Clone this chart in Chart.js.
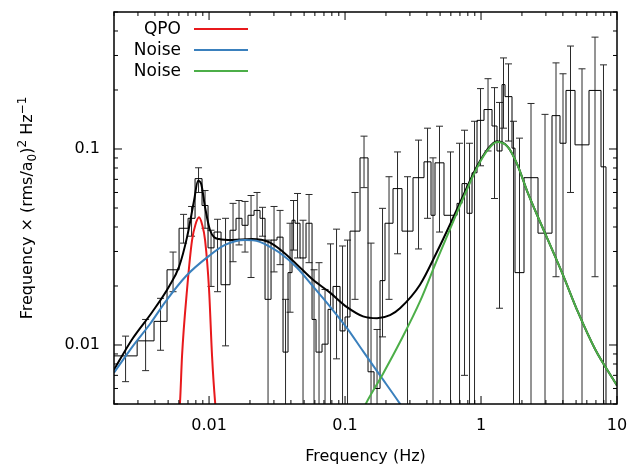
<!DOCTYPE html>
<html>
<head>
<meta charset="utf-8">
<script src="https://cdn.jsdelivr.net/npm/chart.js@4.4.1/dist/chart.umd.min.js"></script>
<style>
  html, body { margin: 0; padding: 0; background: #fff; }
  #wrap { width: 642px; height: 466px; }
</style>
</head>
<body>
<div id="wrap"><canvas id="psdChart" width="642" height="466"></canvas></div>
<script>
// power spectrum bins (Hz edges) and nu*P values
const binEdges = [0.0020, 0.00296, 0.00394, 0.00491, 0.00602, 0.00701, 0.00789, 0.00888, 0.00983, 0.01088,
    0.01225, 0.01427, 0.01579, 0.01748, 0.01935, 0.02142, 0.02371, 0.02581, 0.02857, 0.03162,
    0.0350, 0.03809, 0.04076, 0.04289, 0.04667, 0.05166, 0.0572, 0.06119, 0.06774, 0.07499,
    0.08163, 0.09188, 0.1, 0.1088, 0.1289, 0.1476, 0.1634, 0.1809, 0.1968, 0.2254,
    0.2625, 0.3162, 0.3809, 0.4289, 0.4588, 0.5343, 0.6661, 0.725, 0.7891, 0.8587,
    0.9346, 1.052, 1.205, 1.311, 1.427, 1.501, 1.69, 1.778, 2.071, 2.625,
    3.327, 3.81, 4.217, 4.912, 6.225, 7.627, 8.3, 10];
const binPower = [0.0088, 0.0105, 0.0132, 0.0242, 0.0394, 0.0443, 0.0706, 0.0515, 0.0313, 0.0377,
    0.0203, 0.0385, 0.0443, 0.0408, 0.0459, 0.0486, 0.0443, 0.0171, 0.0343, 0.0355,
    0.0092, 0.0234, 0.0433, 0.0418, 0.0278, 0.0418, 0.0135, 0.0092, 0.0101, 0.0152,
    0.0199, 0.0118, 0.0139, 0.0381, 0.0901, 0.0073, 0.0060, 0.0213, 0.0418, 0.0628,
    0.0381, 0.0714, 0.0860, 0.0459, 0.0850, 0.0459, 0.0528, 0.0666, 0.0470, 0.0756,
    0.140, 0.159, 0.131, 0.0977, 0.213, 0.185, 0.101, 0.0234, 0.0714, 0.0372,
    0.148, 0.107, 0.199, 0.105, 0.199, 0.0811, 0.004];
const errUpper = [0.0111, 0.0135, 0.0173, 0.0298, 0.0464, 0.0509, 0.0802, 0.0614, 0.0385, 0.0438,
    0.0443, 0.0528, 0.0546, 0.0540, 0.0579, 0.0600, 0.0504, 0.0343, 0.0509, 0.0486,
    0.0171, 0.0418, 0.0546, 0.0593, 0.0433, 0.0586, 0.0242, 0.0263, 0.0192, 0.0328,
    0.0390, 0.0320, 0.0343, 0.0600, 0.1163, 0.0331, 0.0120, 0.0498, 0.0722, 0.0966,
    0.0722, 0.1110, 0.1277, 0.0901, 0.1307, 0.0966, 0.107, 0.1247, 0.107, 0.1385,
    0.2033, 0.2284, 0.2056, 0.1728, 0.2915, 0.2718, 0.1385, 0.1136, 0.1707, 0.1502,
    0.2750, 0.2420, 0.3352, 0.2565, 0.3722, 0.2687, 0.004];
const errLower = [0.0065, 0.0074, 0.0094, 0.0187, 0.0331, 0.0359, 0.0600, 0.0394, 0.0199, 0.0187,
    0.0099, 0.0266, 0.0324, 0.0298, 0.0221, 0.0343, 0.0359, 0.001, 0.0236, 0.0257,
    0.001, 0.0147, 0.0305, 0.0278, 0.001, 0.0263, 0.001, 0.001, 0.001, 0.001,
    0.0085, 0.001, 0.001, 0.0171, 0.0635, 0.001, 0.001, 0.0110, 0.0171, 0.0292,
    0.001, 0.0309, 0.0443, 0.001, 0.0377, 0.001, 0.001, 0.0070, 0.001, 0.001,
    0.0821, 0.0977, 0.0559, 0.0154, 0.1277, 0.1098, 0.001, 0.001, 0.001, 0.001,
    0.0223, 0.001, 0.0600, 0.001, 0.0223, 0.001, 0.004];

// model components
const qpoFreq = [0.00572, 0.00612, 0.00633, 0.00689, 0.0075, 0.00796, 0.00844, 0.00888, 0.00935, 0.0100, 0.01052, 0.01107, 0.01185];
const qpoPower = [0.00335, 0.00515, 0.0088, 0.0192, 0.0343, 0.0413, 0.0448, 0.0413, 0.0343, 0.0192, 0.0088, 0.00515, 0.00335];

const noiseLowFreq = [0.0020, 0.00276, 0.00368, 0.00483, 0.00678, 0.0100, 0.01311, 0.01839, 0.02332, 0.02905,
    0.03384, 0.04436, 0.05816, 0.07756, 0.1034, 0.1356, 0.1809, 0.2494, 0.3006];
const noiseLowPower = [0.00722, 0.0099, 0.0128, 0.0168, 0.0225, 0.0285, 0.0324, 0.0343, 0.0337, 0.0312,
    0.0292, 0.0248, 0.0199, 0.0157, 0.0122, 0.0093, 0.0070, 0.0051, 0.0042];

const noiseHighFreq = [0.1185, 0.1451, 0.1903, 0.2537, 0.3559, 0.4747, 0.5916, 0.7375, 0.9346, 1.107,
    1.311, 1.579, 1.840, 2.216, 2.955, 3.941, 5.168, 6.890, 10];
const noiseHighPower = [0.0039, 0.00515, 0.00714, 0.01035, 0.01668, 0.02719, 0.03899, 0.0559, 0.0802, 0.0977,
    0.1085, 0.1023, 0.0840, 0.0593, 0.0372, 0.0234, 0.0147, 0.00954, 0.00621];

const totalFreq = [0.0020, 0.00272, 0.00381, 0.00508, 0.00602, 0.00689, 0.00776, 0.0083, 0.00874, 0.00935,
    0.01017, 0.01185, 0.01476, 0.02071, 0.02762, 0.0344, 0.04436, 0.05816, 0.07756, 0.1034,
    0.1356, 0.1719, 0.2142, 0.2537, 0.3559, 0.4747, 0.5916, 0.7375, 0.9346, 1.107,
    1.311, 1.579, 1.840, 2.216, 2.955, 3.941, 5.168, 6.890, 10];
const totalPower = [0.00748, 0.0107, 0.0147, 0.0199, 0.0251, 0.0355, 0.0546, 0.0689, 0.0666, 0.0504,
    0.0385, 0.0347, 0.0343, 0.0347, 0.0335, 0.0302, 0.0257, 0.0215, 0.0185, 0.0156,
    0.0140, 0.0137, 0.0142, 0.0154, 0.0203, 0.0299, 0.0412, 0.0576, 0.0816, 0.0988,
    0.1095, 0.1023, 0.0840, 0.0593, 0.0372, 0.0234, 0.0147, 0.00954, 0.00621];

const xTickValues = [0.01, 0.1, 1, 10];
const yTickValues = [0.01, 0.1];
const legendLabels = ['QPO', 'Noise', 'Noise'];

const RED = '#e8191c';
const BLUE = '#3a80bd';
const GREEN = '#4cae48';
const FONT = 'DejaVu Sans';

const toPoints = (xs, ys) => xs.map((x, i) => ({ x: x, y: ys[i] }));

// step outline: left edge of each bin, plus closing right edge
const stepPoints = binPower.map((p, i) => ({ x: binEdges[i], y: p }));
stepPoints.push({ x: binEdges[binEdges.length - 1], y: binPower[binPower.length - 1] });

const curve = (color) => ({
    borderColor: color,
    borderWidth: 2,
    pointRadius: 0,
    fill: false,
    cubicInterpolationMode: 'monotone'
});

// y title pieces: [text, font size, baseline shift]
const yTitleParts = [
    ['Frequency \u00d7 (rms/a', 16, 0],
    ['0', 12, 4],
    [')', 16, 0],
    ['2', 12, -6],
    [' Hz', 16, 0],
    ['\u22121', 12, -6]
];

// error bars, frame, inward ticks, y title and the legend
const decorations = {
    id: 'decorations',
    beforeDatasetsDraw(chart) {
        const { ctx, chartArea, scales: { x, y } } = chart;
        ctx.save();
        ctx.beginPath();
        ctx.rect(chartArea.left, chartArea.top, chartArea.right - chartArea.left, chartArea.bottom - chartArea.top);
        ctx.clip();
        ctx.strokeStyle = '#2a2a2a';
        ctx.lineWidth = 1;
        binPower.forEach((p, i) => {
            const px = (x.getPixelForValue(binEdges[i]) + x.getPixelForValue(binEdges[i + 1])) / 2;
            const top = y.getPixelForValue(errUpper[i]);
            const bot = y.getPixelForValue(errLower[i]);
            ctx.beginPath();
            ctx.moveTo(px, top);
            ctx.lineTo(px, bot);
            ctx.moveTo(px - 3.5, top);
            ctx.lineTo(px + 3.5, top);
            ctx.moveTo(px - 3.5, bot);
            ctx.lineTo(px + 3.5, bot);
            ctx.stroke();
        });
        ctx.restore();
    },
    afterDatasetsDraw(chart) {
        const { ctx, chartArea, scales: { x, y } } = chart;
        const { left, right, top, bottom } = chartArea;
        ctx.save();
        ctx.strokeStyle = '#000';
        ctx.lineWidth = 1.5;
        ctx.strokeRect(left, top, right - left, bottom - top);

        ctx.lineWidth = 1;
        const drawX = (v, len) => {
            const px = x.getPixelForValue(v);
            if (px < left - 0.5 || px > right + 0.5) return;
            ctx.beginPath();
            ctx.moveTo(px, bottom);
            ctx.lineTo(px, bottom - len);
            ctx.moveTo(px, top);
            ctx.lineTo(px, top + len);
            ctx.stroke();
        };
        const drawY = (v, len) => {
            const py = y.getPixelForValue(v);
            if (py < top - 0.5 || py > bottom + 0.5) return;
            ctx.beginPath();
            ctx.moveTo(left, py);
            ctx.lineTo(left + len, py);
            ctx.moveTo(right, py);
            ctx.lineTo(right - len, py);
            ctx.stroke();
        };
        for (let e = -3; e <= 1; e++) {
            for (let k = 1; k <= 9; k++) {
                const v = k * Math.pow(10, e);
                drawX(v, k === 1 ? 8 : 4);
                drawY(v, k === 1 ? 8 : 4);
            }
        }

        // y axis title with sub/superscripts
        ctx.fillStyle = '#000';
        ctx.textAlign = 'left';
        ctx.textBaseline = 'alphabetic';
        let total = 0;
        yTitleParts.forEach(([t, size]) => {
            ctx.font = size + 'px "' + FONT + '"';
            total += ctx.measureText(t).width;
        });
        ctx.save();
        ctx.translate(26, (top + bottom) / 2);
        ctx.rotate(-Math.PI / 2);
        let cx = -total / 2;
        yTitleParts.forEach(([t, size, shift]) => {
            ctx.font = size + 'px "' + FONT + '"';
            ctx.fillText(t, cx, 6 + shift);
            cx += ctx.measureText(t).width;
        });
        ctx.restore();

        // legend
        const colors = [RED, BLUE, GREEN];
        ctx.font = '17px "' + FONT + '"';
        ctx.textAlign = 'right';
        ctx.textBaseline = 'middle';
        legendLabels.forEach((label, i) => {
            const ly = 29 + i * 21;
            ctx.fillText(label, 181, ly + 1);
            ctx.strokeStyle = colors[i];
            ctx.lineWidth = 2;
            ctx.beginPath();
            ctx.moveTo(194, ly);
            ctx.lineTo(248, ly);
            ctx.stroke();
        });
        ctx.restore();
    }
};

new Chart(document.getElementById('psdChart'), {
    type: 'line',
    data: {
        datasets: [
            Object.assign({ label: 'Noise', data: toPoints(noiseHighFreq, noiseHighPower) }, curve(GREEN)),
            Object.assign({ label: 'Noise', data: toPoints(noiseLowFreq, noiseLowPower) }, curve(BLUE)),
            Object.assign({ label: 'QPO', data: toPoints(qpoFreq, qpoPower) }, curve(RED)),
            Object.assign({ label: 'Total', data: toPoints(totalFreq, totalPower) }, curve('#000')),
            {
                label: 'Data',
                data: stepPoints,
                // Chart.js 'before' keeps the previous y until the next x
                stepped: 'before',
                borderColor: '#000',
                borderWidth: 1,
                pointRadius: 0,
                fill: false
            }
        ]
    },
    options: {
        responsive: false,
        animation: false,
        devicePixelRatio: 1,
        layout: { padding: { top: 12, right: 25, left: 0, bottom: 0 } },
        plugins: {
            legend: { display: false },
            tooltip: { enabled: false }
        },
        scales: {
            x: {
                type: 'logarithmic',
                min: 0.002,
                max: 10,
                grid: { display: false, drawTicks: false },
                border: { display: false },
                afterFit: scale => {
                    scale.height = 62;
                    scale.paddingLeft = 0;
                    scale.paddingRight = 0;
                },
                afterBuildTicks: scale => { scale.ticks = xTickValues.map(v => ({ value: v })); },
                ticks: {
                    autoSkip: false,
                    maxRotation: 0,
                    padding: 12,
                    color: '#000',
                    font: { family: FONT, size: 16 },
                    callback: value => String(value)
                },
                title: {
                    display: true,
                    text: 'Frequency (Hz)',
                    color: '#000',
                    font: { family: FONT, size: 16 },
                    padding: { top: 0, bottom: 0 }
                }
            },
            y: {
                type: 'logarithmic',
                min: 0.005,
                max: 0.5,
                grid: { display: false, drawTicks: false },
                border: { display: false },
                afterFit: scale => {
                    scale.width = 114;
                    scale.paddingTop = 0;
                    scale.paddingBottom = 0;
                },
                afterBuildTicks: scale => { scale.ticks = yTickValues.map(v => ({ value: v })); },
                ticks: {
                    autoSkip: false,
                    padding: 14,
                    color: '#000',
                    font: { family: FONT, size: 16 },
                    callback: value => String(value)
                },
                title: { display: false }
            }
        }
    },
    plugins: [decorations]
});
</script>
</body>
</html>
